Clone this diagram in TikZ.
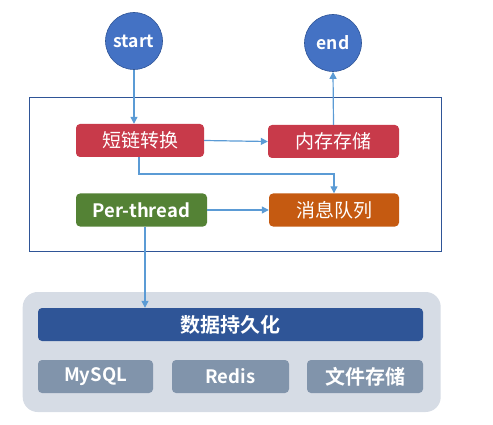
\documentclass[tikz,border=0pt]{standalone}
\usepackage{fontspec}
\setmainfont{Noto Sans CJK SC}[BoldFont={Noto Sans CJK SC Bold}]
\usetikzlibrary{arrows.meta}
\definecolor{cblue}{HTML}{4472C4}
\definecolor{cblueline}{HTML}{2F5597}
\definecolor{cred}{HTML}{C83A4A}
\definecolor{cgreen}{HTML}{548235}
\definecolor{corange}{HTML}{C55A11}
\definecolor{carrow}{HTML}{5B9BD5}
\definecolor{cpanel}{HTML}{D6DCE5}
\definecolor{cdark}{HTML}{2F5597}
\definecolor{cgray}{HTML}{8194AB}
\tikzset{
  term/.style={circle, fill=cblue, draw=cblueline, line width=0.6pt, minimum size=57pt, inner sep=0pt, text=white, font=\fontsize{17.5}{17.5}\selectfont\bfseries},
  procbox/.style={rounded corners=4pt, minimum width=#1, minimum height=33pt, inner sep=0pt, text=white},
  cjklabel/.style={font=\fontsize{19}{19}\selectfont},
  boldlabel/.style={font=\fontsize{18.5}{18.5}\selectfont\bfseries},
  flow/.style={draw=carrow, line width=1.2pt, -{Triangle[length=7pt,width=7pt]}},
}
\begin{document}
\begin{tikzpicture}[x=1pt,y=-1pt]
\useasboundingbox (0,0) rectangle (493,425);
% outer frame and panel
\node[draw=cblueline, line width=0.8pt, minimum width=412pt, minimum height=154pt, inner sep=0pt] (frame) at (235,174) {};
\node[fill=cpanel, rounded corners=15pt, minimum width=418pt, minimum height=120pt, inner sep=0pt] (panel) at (231.7,352) {};
% terminals
\node[term] (start) at (134,41) {start};
\node[term] (end) at (333,43) {end};
% process boxes
\node[procbox=128pt, fill=cred, cjklabel] (short) at (140,140.5) {短链转换};
\node[procbox=131pt, fill=cred, cjklabel] (mem) at (333.5,141.5) {内存存储};
\node[procbox=131pt, fill=cgreen, boldlabel] (per) at (141.5,210) {Per-thread};
\node[procbox=130pt, fill=corange, cjklabel] (mq) at (334,210) {消息队列};
% persistence
\node[rounded corners=4pt, fill=cdark, minimum width=385pt, minimum height=33pt, inner sep=0pt, text=white, font=\fontsize{20}{20}\selectfont\bfseries] (persist) at (230.5,324.5) {数据持久化};
\node[procbox=115pt, fill=cgray, boldlabel] (mysql) at (95.5,376.5) {MySQL};
\node[procbox=117pt, fill=cgray, boldlabel] (redis) at (230.5,376.5) {Redis};
\node[procbox=116pt, fill=cgray, font=\fontsize{20}{20}\selectfont\bfseries] (file) at (365,376.5) {文件存储};
% connectors
\draw[flow] (start.south) -- (start.south |- short.north);
\draw[flow] (mem.north) -- (end.south);
\draw[flow] (short.east) -- (mem.west);
\coordinate (sbend) at (139,174);
\draw[flow] (short.south -| sbend) -- (sbend) -| (mq.north);
\draw[flow] (per.east) -- (mq.west);
\coordinate (pdrop) at (145,0);
\draw[flow] (per.south -| pdrop) -- (persist.north -| pdrop);
\end{tikzpicture}
\end{document}
